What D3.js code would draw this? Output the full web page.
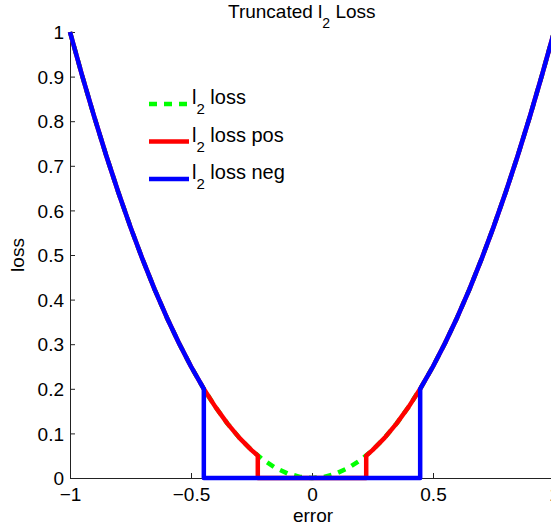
<!DOCTYPE html>
<html>
<head>
<meta charset="utf-8">
<script src="https://cdn.jsdelivr.net/npm/d3@7"></script>
<style>
  body { margin: 0; background: #fff; }
  text { font-family: "Liberation Sans", Arial, sans-serif; fill: #000; }
</style>
</head>
<body>
<svg id="chart" width="551" height="529"></svg>
<script>
/*** DATA ***/
// full l2 loss, sampled every 0.05
var errorX = [-1, -0.95, -0.9, -0.85, -0.8, -0.75, -0.7, -0.65, -0.6, -0.55, -0.5,
  -0.45, -0.4, -0.35, -0.3, -0.25, -0.2, -0.15, -0.1, -0.05, 0,
  0.05, 0.1, 0.15, 0.2, 0.25, 0.3, 0.35, 0.4, 0.45, 0.5,
  0.55, 0.6, 0.65, 0.7, 0.75, 0.8, 0.85, 0.9, 0.95, 1];
var l2Loss = [1, 0.9025, 0.81, 0.7225, 0.64, 0.5625, 0.49, 0.4225, 0.36, 0.3025, 0.25,
  0.2025, 0.16, 0.1225, 0.09, 0.0625, 0.04, 0.0225, 0.01, 0.0025, 0,
  0.0025, 0.01, 0.0225, 0.04, 0.0625, 0.09, 0.1225, 0.16, 0.2025, 0.25,
  0.3025, 0.36, 0.4225, 0.49, 0.5625, 0.64, 0.7225, 0.81, 0.9025, 1];

// truncated at 0.05 (positives)
var posX = [-1, -0.95, -0.9, -0.85, -0.8, -0.75, -0.7, -0.65, -0.6, -0.55, -0.5,
  -0.45, -0.4, -0.35, -0.3, -0.25, -0.224, -0.224, 0.224, 0.224,
  0.25, 0.3, 0.35, 0.4, 0.45, 0.5, 0.55, 0.6, 0.65, 0.7, 0.75, 0.8, 0.85, 0.9, 0.95, 1];
var posLoss = [1, 0.9025, 0.81, 0.7225, 0.64, 0.5625, 0.49, 0.4225, 0.36, 0.3025, 0.25,
  0.2025, 0.16, 0.1225, 0.09, 0.0625, 0.05, 0, 0, 0.05,
  0.0625, 0.09, 0.1225, 0.16, 0.2025, 0.25, 0.3025, 0.36, 0.4225, 0.49, 0.5625, 0.64, 0.7225, 0.81, 0.9025, 1];

// truncated at 0.2 (negatives)
var negX = [-1, -0.95, -0.9, -0.85, -0.8, -0.75, -0.7, -0.65, -0.6, -0.55, -0.5,
  -0.45, -0.447, -0.447, 0.447, 0.447, 0.45,
  0.5, 0.55, 0.6, 0.65, 0.7, 0.75, 0.8, 0.85, 0.9, 0.95, 1];
var negLoss = [1, 0.9025, 0.81, 0.7225, 0.64, 0.5625, 0.49, 0.4225, 0.36, 0.3025, 0.25,
  0.2025, 0.2, 0, 0, 0.2, 0.2025,
  0.25, 0.3025, 0.36, 0.4225, 0.49, 0.5625, 0.64, 0.7225, 0.81, 0.9025, 1];

var xTicks = [-1, -0.5, 0, 0.5, 1];
var yTicks = [0, 0.1, 0.2, 0.3, 0.4, 0.5, 0.6, 0.7, 0.8, 0.9, 1];

var seriesNames = ["loss", "loss pos", "loss neg"];
var seriesColors = ["#00ff00", "#ff0000", "#0000ff"];

/*** DRAW ***/
var svg = d3.select("#chart");
var mLeft = 70, mRight = 554, mTop = 32, mBottom = 478;

var x = d3.scaleLinear().domain([-1, 1]).range([mLeft, mRight]);
var y = d3.scaleLinear().domain([0, 1]).range([mBottom, mTop]);

// axes: only left and bottom, ticks pointing inward
var gx = svg.append("g").attr("transform", "translate(0," + mBottom + ")")
  .call(d3.axisBottom(x).tickValues(xTicks).tickSizeInner(-5).tickSizeOuter(0).tickPadding(10)
    .tickFormat(d => d < 0 ? "\u2212" + Math.abs(d) : d));
var gy = svg.append("g").attr("transform", "translate(" + mLeft + ",0)")
  .call(d3.axisLeft(y).tickValues(yTicks).tickSizeInner(-5).tickSizeOuter(0).tickPadding(6)
    .tickFormat(d3.format("")));
[gx, gy].forEach(g => {
  g.selectAll("path.domain").attr("stroke", "#222").attr("stroke-width", 1);
  g.selectAll(".tick line").attr("stroke", "#222");
  g.selectAll("text").attr("font-size", "19px").attr("font-family", "Liberation Sans, Arial, sans-serif").attr("fill", "#000");
});
gy.selectAll("text").attr("dy", "0.35em");

var line = d3.line().x(d => x(d[0])).y(d => y(d[1]));
var series = [
  d3.zip(errorX, l2Loss),
  d3.zip(posX, posLoss),
  d3.zip(negX, negLoss)
];

svg.append("g").selectAll("path").data(series).enter()
  .append("path")
    .attr("d", line)
    .attr("fill", "none")
    .attr("stroke", (d, i) => seriesColors[i])
    .attr("stroke-width", 4.5)
    .attr("stroke-linejoin", "round")
    .attr("stroke-dasharray", (d, i) => i === 0 ? "8,7" : null);

// legend
var legend = svg.append("g").selectAll("g").data(seriesNames).enter()
  .append("g").attr("transform", (d, i) => "translate(149," + (104 + i * 37.5) + ")");
legend.append("line")
  .attr("x1", 0).attr("x2", 40)
  .attr("stroke", (d, i) => seriesColors[i])
  .attr("stroke-width", 4.5)
  .attr("stroke-dasharray", (d, i) => i === 0 ? "8,7" : null);
var lt = legend.append("text").attr("x", 43).attr("font-size", "20px");
lt.append("tspan").text("l");
lt.append("tspan").attr("dy", 10).attr("font-size", "15px").text("2");
lt.append("tspan").attr("dy", -10).text(d => " " + d);

// title
var title = svg.append("text").attr("x", 228).attr("y", 18).attr("font-size", "19px");
title.append("tspan").text("Truncated l");
title.append("tspan").attr("dy", 10).attr("font-size", "14px").text("2");
title.append("tspan").attr("dy", -10).text(" Loss");

// axis labels
svg.append("text").attr("x", 313).attr("y", 522)
  .attr("text-anchor", "middle").attr("font-size", "19px").text("error");
svg.append("text").attr("transform", "translate(24,255) rotate(-90)")
  .attr("text-anchor", "middle").attr("font-size", "19px").text("loss");
</script>
</body>
</html>
